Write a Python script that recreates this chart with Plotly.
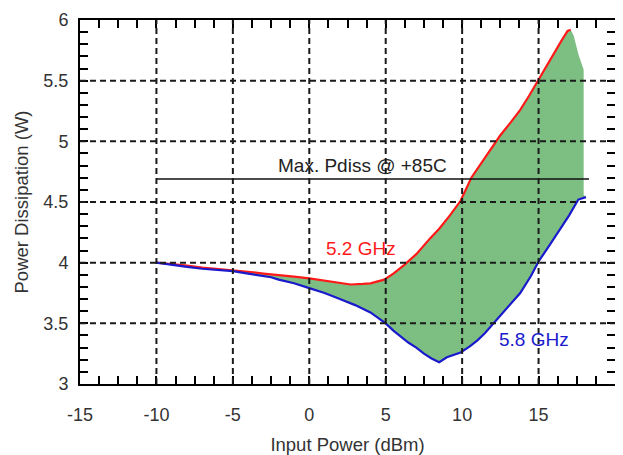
import plotly.graph_objects as go

# 5.2 GHz curve (red)
red_x = [-10, -9, -8, -7, -6, -5, -4, -3, -2, -1, 0, 1, 2, 2.7, 3.5, 4, 4.9, 5.5, 6.2, 7, 7.9,
         8.5, 9.2, 9.9, 10.6, 11.5, 12.5, 13.2, 13.8, 14.4, 15.0, 15.5, 16.0, 16.5, 16.9, 17.1]
red_y = [4.00, 3.99, 3.975, 3.96, 3.95, 3.94, 3.925, 3.91, 3.90, 3.885, 3.87, 3.85, 3.83, 3.82,
         3.825, 3.83, 3.86, 3.91, 3.98, 4.07, 4.20, 4.28, 4.39, 4.51, 4.70, 4.87, 5.05, 5.16,
         5.26, 5.38, 5.51, 5.62, 5.73, 5.83, 5.91, 5.92]

# 5.8 GHz curve (blue)
blue_x = [-10, -9, -8, -7, -6, -5, -4, -3, -2.5, -2, -1, 0, 1, 2, 3, 4, 5, 5.5, 6, 6.5, 7, 7.5,
          8, 8.5, 9, 9.9, 10.5, 11, 11.5, 12, 12.5, 13, 13.8, 14.5, 15, 15.7, 16.4, 17, 17.6, 18.1]
blue_y = [4.00, 3.98, 3.965, 3.95, 3.94, 3.93, 3.91, 3.89, 3.88, 3.86, 3.83, 3.79, 3.75, 3.70,
          3.65, 3.59, 3.50, 3.44, 3.39, 3.34, 3.30, 3.25, 3.21, 3.18, 3.22, 3.26, 3.31, 3.36,
          3.42, 3.49, 3.56, 3.63, 3.75, 3.89, 4.01, 4.14, 4.27, 4.39, 4.52, 4.54]

# upper edge of the shaded band beyond the end of the red curve
tail_x = [17.3, 17.6, 17.95, 17.95]
tail_y = [5.87, 5.72, 5.59, 4.56]

# max dissipation limit
pdiss_x = [-10, 18.3]
pdiss_level = 4.69

x_ticks = [-15, -10, -5, 0, 5, 10, 15, 20]
y_ticks = [3, 3.5, 4, 4.5, 5, 5.5, 6]
x_grid = [-10, -5, 0, 5, 10, 15]
y_grid = [3.5, 4, 4.5, 5, 5.5]

FONT = "Liberation Sans, Arial, Helvetica, sans-serif"
TXT = "#333333"

fig = go.Figure()

poly_x = red_x + tail_x + blue_x[::-1]
poly_y = red_y + tail_y + blue_y[::-1]
fig.add_trace(go.Scatter(x=poly_x, y=poly_y, mode="lines", fill="toself",
                         fillcolor="rgb(125,191,131)", line=dict(width=0),
                         hoverinfo="skip", showlegend=False))
fig.add_trace(go.Scatter(x=red_x, y=red_y, mode="lines",
                         line=dict(color="#ff1a1a", width=2.2), showlegend=False))
fig.add_trace(go.Scatter(x=blue_x, y=blue_y, mode="lines",
                         line=dict(color="#1a1acc", width=2.2), showlegend=False))
fig.add_trace(go.Scatter(x=pdiss_x, y=[pdiss_level] * len(pdiss_x), mode="lines",
                         line=dict(color="#111111", width=1.6), showlegend=False))

shapes = []
for gx in x_grid:
    shapes.append(dict(type="line", xref="x", yref="paper", x0=gx, x1=gx, y0=0, y1=1,
                       layer="above", line=dict(color="#1a1a1a", width=2, dash="6px,4px")))
for gy in y_grid:
    shapes.append(dict(type="line", xref="paper", yref="y", x0=0, x1=1, y0=gy, y1=gy,
                       layer="above", line=dict(color="#1a1a1a", width=2, dash="6px,4px")))

annotations = [
    dict(x=3.46, y=4.80, text="Max. Pdiss @ +85C", showarrow=False,
         font=dict(size=19, color="#222222", family=FONT), xanchor="center", yanchor="middle"),
    dict(x=3.4, y=4.12, text="5.2 GHz", showarrow=False,
         font=dict(size=19, color="#ff1a1a", family=FONT), xanchor="center", yanchor="middle"),
    dict(x=14.68, y=3.37, text="5.8 GHz", showarrow=False,
         font=dict(size=19, color="#1a1acc", family=FONT), xanchor="center", yanchor="middle"),
]

axis_common = dict(showline=True, linecolor="black", linewidth=2, mirror="ticks",
                   ticks="inside", ticklen=8, tickwidth=1.5, tickcolor="black",
                   showgrid=False, zeroline=False, automargin=False,
                   tickfont=dict(size=18, color=TXT, family=FONT))

fig.update_layout(
    width=615, height=447,
    margin=dict(l=72, r=8, t=12, b=71),
    plot_bgcolor="white", paper_bgcolor="white",
    font=dict(family=FONT, color=TXT),
    shapes=shapes, annotations=annotations,
    xaxis=dict(range=[-15, 20], tickvals=x_ticks, ticktext=[str(v) for v in x_ticks],
               minor=dict(ticks="inside", ticklen=8, tickwidth=1.5, tickcolor="black",
                          dtick=1.25, tick0=-15, showgrid=False),
               title=dict(text="Input Power (dBm)", font=dict(size=18.5, color=TXT, family=FONT),
                          standoff=19),
               ticklabelstandoff=13, **axis_common),
    yaxis=dict(range=[3, 6], tickvals=y_ticks, ticktext=[f"{v:g}" for v in y_ticks],
               minor=dict(ticks="inside", ticklen=8, tickwidth=1.5, tickcolor="black",
                          dtick=0.1, tick0=3, showgrid=False),
               title=dict(text="Power Dissipation (W)", font=dict(size=18.5, color=TXT, family=FONT),
                          standoff=10),
               ticklabelstandoff=6, **axis_common),
)

fig.write_html("out.html")
